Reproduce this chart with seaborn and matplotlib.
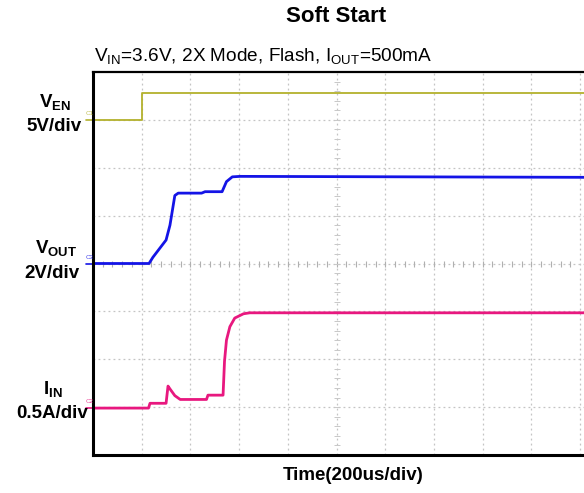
import numpy as np
import pandas as pd
import matplotlib
matplotlib.use("Agg")
import matplotlib.pyplot as plt
import seaborn as sns

# ---- data (units: screen divisions) ----
ven_t = [0.0, 1.0, 1.0, 10.08]
ven_v = [7.0, 7.0, 7.56, 7.56]

vout_t = [0.0, 1.15, 1.23, 1.50, 1.58, 1.68, 1.75, 2.23, 2.30, 2.65, 2.74, 2.86, 3.02, 10.08]
vout_v = [4.0, 4.0, 4.13, 4.49, 4.80, 5.42, 5.47, 5.47, 5.50, 5.50, 5.71, 5.81, 5.82, 5.80]

iin_t = [0.0, 1.14, 1.17, 1.50, 1.54, 1.58, 1.68, 1.79, 2.33, 2.36, 2.67, 2.70, 2.74, 2.81, 2.91, 3.09, 3.22, 10.08]
iin_v = [0.98, 0.98, 1.08, 1.08, 1.44, 1.38, 1.24, 1.16, 1.16, 1.25, 1.25, 1.96, 2.40, 2.68, 2.86, 2.95, 2.97, 2.97]

# ---- style ----
sns.set_theme(style="white")
plt.rcParams['font.family'] = ['Liberation Sans', 'DejaVu Sans']
plt.rcParams['mathtext.fontset'] = 'custom'
plt.rcParams['mathtext.rm'] = 'Liberation Sans'
plt.rcParams['mathtext.bf'] = 'Liberation Sans:bold'
plt.rcParams['text.color'] = 'black'

YEL = '#b3b12c'
BLU = '#1414e6'
MAG = '#e8187f'

W, H = 584, 493
fig = plt.figure(figsize=(W / 100, H / 100), dpi=100)
ax = fig.add_axes([93 / W, (H - 455) / H, 491 / W, (455 - 72) / H])
ax.set_xlim(0, 10.08)
ax.set_ylim(0, 8)

# graticule
for x in range(1, 11):
    ax.axvline(x, color='#c4c4c4', lw=0.9, ls=(0, (1.5, 2.5)), zorder=0)
for y in range(1, 8):
    ax.axhline(y, color='#c4c4c4', lw=0.9, ls=(0, (1.5, 2.5)), zorder=0)
mx = np.arange(0.2, 10.0, 0.2)
ax.plot(mx, np.full_like(mx, 4.0), ls='none', marker='|', ms=5, mew=0.8, color='#b0b0b0', zorder=0)
my = np.arange(0.2, 8.0, 0.2)
ax.plot(np.full_like(my, 5.0), my, ls='none', marker='_', ms=4, mew=0.7, color='#c8c8c8', zorder=0)

ven = pd.DataFrame({'t': ven_t, 'v': ven_v})
vout = pd.DataFrame({'t': vout_t, 'v': vout_v})
iin = pd.DataFrame({'t': iin_t, 'v': iin_v})
sns.lineplot(data=ven, x='t', y='v', ax=ax, color=YEL, lw=1.3, sort=False, estimator=None)
sns.lineplot(data=vout, x='t', y='v', ax=ax, color=BLU, lw=2.0, sort=False, estimator=None)
sns.lineplot(data=iin, x='t', y='v', ax=ax, color=MAG, lw=2.0, sort=False, estimator=None)

ax.set_xticks([])
ax.set_yticks([])
ax.set_xlabel('')
ax.set_ylabel('')
for s in ['left', 'bottom']:
    ax.spines[s].set_color('black')
    ax.spines[s].set_linewidth(2.2)
ax.spines['top'].set_color('black')
ax.spines['top'].set_linewidth(1.6)
ax.spines['right'].set_visible(False)

# channel markers
for lvl, col, lab in [(ven_v[0], YEL, 'C1'), (vout_v[0], BLU, 'C3'), (iin_v[0], MAG, 'C2')]:
    ax.plot([-0.15, 0], [lvl, lvl], color=col, lw=1.2, clip_on=False)
    ax.text(-0.16, lvl + 0.08, lab, color=col, fontsize=4.5, ha='left', va='bottom', alpha=0.8)

def fx(px):
    return px / W

def fy(py):
    return 1 - py / H

fig.text(fx(336), fy(16), 'Soft Start', fontsize=16, fontweight='bold', ha='center', va='center')
fig.text(fx(94), fy(57), r'V$_\mathregular{IN}$=3.6V, 2X Mode, Flash, I$_\mathregular{OUT}$=500mA',
         fontsize=13.65, ha='left', va='center')
fig.text(fx(353), fy(476), 'Time(200us/div)', fontsize=13.5, fontweight='bold', ha='center', va='center')

lab_kw = dict(fontsize=13.5, fontweight='bold', ha='center', va='center')
fig.text(fx(55), fy(103), r'V$_\mathbf{EN}$', **lab_kw)
fig.text(fx(54), fy(126), '5V/div', **lab_kw)
fig.text(fx(56), fy(249), r'V$_\mathbf{OUT}$', **lab_kw)
fig.text(fx(52), fy(274), '2V/div', **lab_kw)
fig.text(fx(53), fy(390), r'I$_\mathbf{IN}$', **lab_kw)
fig.text(fx(52), fy(413), '0.5A/div', **lab_kw)

fig.savefig('out.png', dpi=100)
